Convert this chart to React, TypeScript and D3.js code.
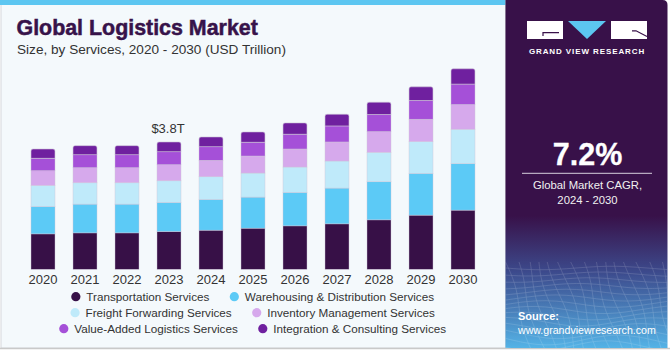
import React from 'react';
import * as d3 from 'd3';

const years = ['2020', '2021', '2022', '2023', '2024', '2025', '2026', '2027', '2028', '2029', '2030'];
const seriesNames = [
  'Transportation Services',
  'Warehousing & Distribution Services',
  'Freight Forwarding Services',
  'Inventory Management Services',
  'Value-Added Logistics Services',
  'Integration & Consulting Services',
];
const transportation = [1.06, 1.09, 1.09, 1.13, 1.17, 1.23, 1.30, 1.36, 1.48, 1.62, 1.77];
const warehousing = [0.82, 0.86, 0.86, 0.87, 0.92, 0.93, 1.00, 1.07, 1.14, 1.25, 1.39];
const freight = [0.63, 0.64, 0.64, 0.65, 0.68, 0.72, 0.76, 0.81, 0.88, 0.95, 1.03];
const inventory = [0.44, 0.45, 0.45, 0.48, 0.49, 0.51, 0.54, 0.57, 0.62, 0.67, 0.74];
const valueAdded = [0.37, 0.39, 0.39, 0.39, 0.41, 0.41, 0.44, 0.48, 0.51, 0.56, 0.61];
const integration = [0.28, 0.27, 0.27, 0.29, 0.29, 0.31, 0.34, 0.35, 0.37, 0.41, 0.46];
const colors = ['#371047', '#5ccaf6', '#bfeafa', '#d6a9ec', '#a550d8', '#6f209f'];
const annotationYear = '2023';
const annotationText = '$3.8T';
const annotationValue = 3.8;
const cagrText = '7.2%';

const FONT = 'Liberation Sans, Arial, sans-serif';

function measure(text: string, size: number, weight = 'normal') {
  const c = document.createElement('canvas').getContext('2d');
  if (!c) return text.length * size * 0.5;
  c.font = `${weight} ${size}px ${FONT}`;
  return c.measureText(text).width;
}

export default function App() {
  const W = 670, H = 350;
  const seriesValues = [transportation, warehousing, freight, inventory, valueAdded, integration];
  const rows = years.map((y, i) => {
    const o: any = { year: y };
    seriesNames.forEach((s, k) => (o[s] = seriesValues[k][i]));
    return o;
  });
  const stacked = d3.stack<any>().keys(seriesNames)(rows);

  const x = d3.scaleBand<string>().domain(years).range([22, 484]).paddingInner(0.4286).paddingOuter(0.2143);
  const baseY = 269.3;
  const y = d3.scaleLinear().domain([0, annotationValue]).range([baseY, 142.3]);

  const legendFont = 11.7;
  const legendRows = [
    [0, 1],
    [2, 3],
    [4, 5],
  ];
  const legendCenter = 252.7;

  const topPath = (x0: number, y0: number, w: number, h: number, r: number) => {
    const p = d3.path();
    p.moveTo(x0, y0 + h);
    p.lineTo(x0, y0 + r);
    p.quadraticCurveTo(x0, y0, x0 + r, y0);
    p.lineTo(x0 + w - r, y0);
    p.quadraticCurveTo(x0 + w, y0, x0 + w, y0 + r);
    p.lineTo(x0 + w, y0 + h);
    p.closePath();
    return p.toString();
  };

  const px0 = 505.5, px1 = 667.5;
  const meshLines: string[] = [];
  // decorative mesh in the panel footer
  for (let k = 0; k < 14; k++) {
    const line = d3.line().curve(d3.curveBasis);
    const pts: [number, number][] = [];
    for (let j = 0; j <= 8; j++) {
      const xx = px0 + (j / 8) * (px1 - px0);
      const yy = 268 + k * 6 + Math.sin(j * 0.9 + k * 0.5) * (2 + k * 0.3);
      pts.push([xx, yy]);
    }
    meshLines.push(line(pts) as string);
  }
  for (let k = 0; k < 16; k++) {
    const line = d3.line().curve(d3.curveBasis);
    const pts: [number, number][] = [];
    for (let j = 0; j <= 6; j++) {
      const yy = 262 + (j / 6) * 86;
      const xx = px0 + k * 11 + (yy - 262) * 0.3 + Math.sin(j + k) * 3;
      pts.push([xx, yy]);
    }
    meshLines.push(line(pts) as string);
  }

  return (
    <svg width={W} height={H} style={{ display: 'block', position: 'absolute', left: 0, top: 0 }}>
      <defs>
        <linearGradient id="panelGrad" x1="0" y1="0" x2="0" y2="1">
          <stop offset="0" stopColor="#381149" />
          <stop offset="0.62" stopColor="#381149" />
          <stop offset="0.78" stopColor="#3d4a8c" />
          <stop offset="1" stopColor="#55b3e6" />
        </linearGradient>
        <clipPath id="panelClip">
          <rect x={px0} y={0} width={px1 - px0} height={348} />
        </clipPath>
      </defs>
      <rect x={0} y={0} width={W} height={H} fill="#ffffff" />
      <rect x={1} y={0} width={px0 - 1} height={348} fill="#f4f9fc" stroke="#d5d8dc" strokeWidth={1} />
      <rect x={0} y={0} width={px0} height={5} fill="#5cc6f1" />
      <line x1={0} y1={348.5} x2={W} y2={348.5} stroke="#c9c9c9" strokeWidth={1.5} />

      {/* right panel */}
      <path
        d={`M${px0},0 L${px1 - 5},0 Q${px1},0 ${px1},5 L${px1},348 L${px0},348 Z`}
        fill="url(#panelGrad)"
      />
      <g clipPath="url(#panelClip)" opacity={0.22} fill="none" stroke="#ffffff" strokeWidth={0.6}>
        {meshLines.map((d, i) => (
          <path key={i} d={d} />
        ))}
      </g>
      {/* logo */}
      <rect x={527} y={21} width={36} height={18} fill="#ffffff" />
      <polyline points="559,32.7 543,32.7 543,36" fill="none" stroke="#381149" strokeWidth={1.2} />
      <polygon points="568,21 606,21 587,39" fill="#5cc6f1" />
      <rect x={611} y={21} width={36} height={18} fill="#ffffff" />
      <polyline points="647,36.5 636,30.8 632,30.8" fill="none" stroke="#381149" strokeWidth={1.2} />
      <text x={587} y={53.5} textAnchor="middle" fill="#ffffff" fontFamily={FONT} fontWeight="bold" fontSize={8} letterSpacing={0.9}>
        GRAND VIEW RESEARCH
      </text>

      <text x={587.5} y={165} textAnchor="middle" fill="#ffffff" fontFamily={FONT} fontWeight="bold" fontSize={30.5} stroke="#ffffff" strokeWidth={0.3}>
        {cagrText}
      </text>
      <line x1={522} y1={173.3} x2={652} y2={173.3} stroke="#d8d0de" strokeWidth={1} />
      <text x={587.5} y={189} textAnchor="middle" fill="#f0f0f0" fontFamily={FONT} fontSize={11.3}>
        Global Market CAGR,
      </text>
      <text x={587.5} y={203.5} textAnchor="middle" fill="#f0f0f0" fontFamily={FONT} fontSize={11.3}>
        2024 - 2030
      </text>
      <text x={518} y={319.5} fill="#ffffff" fontFamily={FONT} fontWeight="bold" fontSize={11}>
        Source:
      </text>
      <text x={518} y={333.5} fill="#ffffff" fontFamily={FONT} fontSize={10.6}>
        www.grandviewresearch.com
      </text>

      {/* titles */}
      <text x={16.5} y={35} fill="#37134a" fontFamily={FONT} fontWeight="bold" fontSize={21.4} stroke="#37134a" strokeWidth={0.5}>
        Global Logistics Market
      </text>
      <text x={17} y={54.3} fill="#333333" fontFamily={FONT} fontSize={13.6}>
        Size, by Services, 2020 - 2030 (USD Trillion)
      </text>

      {/* bars */}
      {stacked.map((layer, li) => (
        <g key={layer.key} fill={colors[li]}>
          {layer.map((d, i) => {
            const x0 = x(years[i]) as number;
            const w = x.bandwidth();
            const y0 = y(d[1]);
            const h = y(d[0]) - y(d[1]);
            if (li === stacked.length - 1) {
              return <path key={i} d={topPath(x0, y0, w, h, 2)} stroke="#cfc6d8" strokeWidth={0.6} />;
            }
            return <rect key={i} x={x0} y={y0} width={w} height={h} stroke="#cfc6d8" strokeOpacity={0.7} strokeWidth={0.6} />;
          })}
        </g>
      ))}

      {/* x axis labels */}
      {years.map((yr) => (
        <text key={yr} x={(x(yr) as number) + x.bandwidth() / 2} y={283.5} textAnchor="middle" fill="#333333" fontFamily={FONT} fontSize={13}>
          {yr}
        </text>
      ))}

      {/* annotation */}
      <text
        x={(x(annotationYear) as number) + x.bandwidth() / 2 - 1}
        y={y(annotationValue) - 9}
        textAnchor="middle"
        fill="#333333"
        fontFamily={FONT}
        fontSize={13}
      >
        {annotationText}
      </text>

      {/* legend */}
      {legendRows.map((row, ri) => {
        const widths = row.map((k) => measure(seriesNames[k], legendFont));
        const total = 4.5 + 10.5 + widths[0] + 25 + 10.5 + widths[1];
        let cx = legendCenter - total / 2 + 4.5;
        const cy = 296.7 + ri * 16;
        const items = row.map((k, j) => {
          const el = (
            <g key={k}>
              <circle cx={cx} cy={cy} r={4.6} fill={colors[k]} />
              <text x={cx + 10.5} y={cy + 4.2} fill="#333333" fontFamily={FONT} fontSize={legendFont}>
                {seriesNames[k]}
              </text>
            </g>
          );
          cx = cx + 10.5 + widths[j] + 25;
          return el;
        });
        return <g key={ri}>{items}</g>;
      })}
    </svg>
  );
}
